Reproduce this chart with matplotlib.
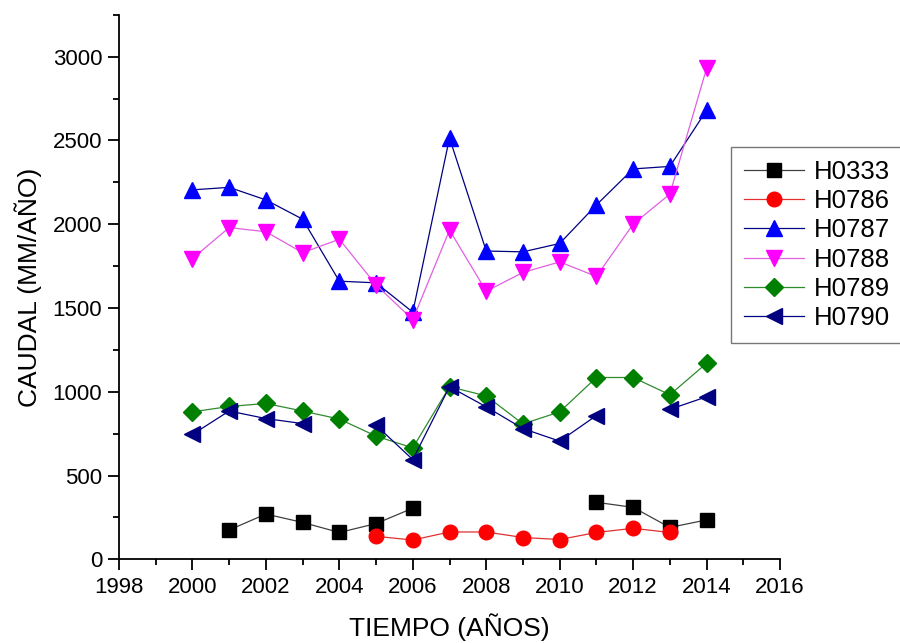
import matplotlib.pyplot as plt
import numpy as np

plt.rcParams["font.family"] = ["Liberation Sans", "DejaVu Sans"]

nan = np.nan
years = np.arange(2000, 2015)

h0333 = [nan, 175, 270, 220, 160, 213, 305, nan, nan, nan, nan, 340, 310, 190, 235]
h0786 = [nan, nan, nan, nan, nan, 137, 115, 163, 163, 130, 118, 160, 185, 160, nan]
h0787 = [2205, 2220, 2145, 2030, 1660, 1650, 1475, 2515, 1840, 1835, 1885, 2115, 2330, 2345, 2680]
h0788 = [1795, 1980, 1955, 1830, 1910, 1638, 1430, 1965, 1600, 1712, 1775, 1688, 2000, 2180, 2930]
h0789 = [880, 912, 930, 885, 837, 735, 665, 1030, 975, 808, 880, 1085, 1085, 982, 1170]
h0790 = [745, 885, 840, 810, nan, 800, 595, 1030, 910, 780, 705, 858, nan, 895, 970]

labels = ["H0333", "H0786", "H0787", "H0788", "H0789", "H0790"]
series = [h0333, h0786, h0787, h0788, h0789, h0790]
markers = ["s", "o", "^", "v", "D", "<"]
marker_colors = ["black", "red", "#0000ff", "#ff00ff", "#008000", "#000080"]
line_colors = ["#404040", "#e03030", "#000080", "#e060e0", "#2e8b2e", "#000080"]
marker_sizes = [9.5, 10.5, 11, 11, 9, 11]

fig = plt.figure(figsize=(9, 6.43), dpi=100)
ax = fig.add_axes([0.1322, 0.1302, 0.7345, 0.8468])

for vals, lab, m, mc, lc, ms in zip(series, labels, markers, marker_colors, line_colors, marker_sizes):
    ax.plot(years, vals, color=lc, linewidth=0.9, marker=m, markersize=ms,
            markerfacecolor=mc, markeredgecolor=mc, label=lab)

ax.set_xlim(1998, 2016)
ax.set_ylim(0, 3250)
ax.set_xticks(np.arange(1998, 2017, 2))
ax.set_xticks(np.arange(1999, 2016, 2), minor=True)
ax.set_yticks(np.arange(0, 3001, 500))
ax.set_yticks(np.arange(250, 3251, 500), minor=True)

for side in ["top", "right"]:
    ax.spines[side].set_visible(False)
for side in ["left", "bottom"]:
    ax.spines[side].set_linewidth(1.3)

ax.tick_params(which="major", direction="out", length=8, width=1.3, labelsize=16, pad=4)
ax.tick_params(axis="x", which="major", pad=5)
ax.tick_params(which="minor", direction="out", length=4, width=1.3)

ax.set_xlabel("TIEMPO (AÑOS)", fontsize=19, labelpad=11)
ax.set_ylabel("CAUDAL (MM/AÑO)", fontsize=19, labelpad=8)

leg = ax.legend(loc="upper left", bbox_to_anchor=(0.812, 0.771), bbox_transform=fig.transFigure,
                fontsize=18.5, frameon=True, fancybox=False, edgecolor="#555555",
                handlelength=2.35, labelspacing=0.2, borderpad=0.5, handletextpad=0.4,
                borderaxespad=0)
leg.get_frame().set_linewidth(1.0)

fig.savefig("out.png", dpi=100)
